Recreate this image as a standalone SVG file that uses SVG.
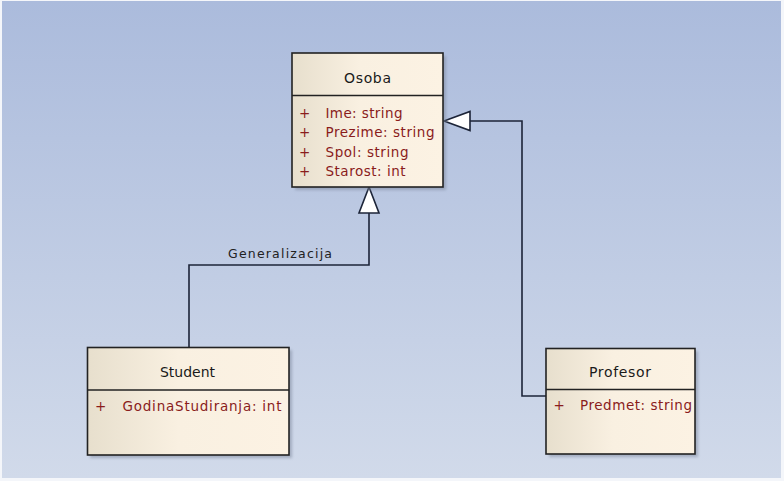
<svg xmlns="http://www.w3.org/2000/svg" width="784" height="481" viewBox="0 0 784 481">
<defs>
<linearGradient id="bg" x1="0" y1="0" x2="0" y2="1">
<stop offset="0" stop-color="#abbbdc"/>
<stop offset="1" stop-color="#d1daea"/>
</linearGradient>
<linearGradient id="box" x1="0" y1="0" x2="1" y2="0">
<stop offset="0" stop-color="#e7dfcd"/>
<stop offset="0.45" stop-color="#f9f0e1"/>
<stop offset="1" stop-color="#fcf2e3"/>
</linearGradient>
<filter id="sh" x="-10%" y="-10%" width="130%" height="130%">
<feGaussianBlur stdDeviation="1.5"/>
</filter>
</defs>
<style>
.frame{fill:url(#box);stroke:#222;stroke-width:1.6}
.shadow{fill:#7d879c;opacity:0.55;filter:url(#sh)}
.sep{stroke:#222;stroke-width:1.4}
.title{font-family:"DejaVu Sans","Liberation Sans",sans-serif;font-size:14px;fill:#1a1a1a;text-anchor:middle}
.attr{font-family:"DejaVu Sans","Liberation Sans",sans-serif;font-size:13.5px;fill:#8a1c1c}
.lbl{font-family:"DejaVu Sans","Liberation Sans",sans-serif;font-size:12.5px;fill:#222}
.conn{fill:none;stroke:#1c2438;stroke-width:1.6}
.tri{fill:#ffffff;stroke:#1c2438;stroke-width:1.6;stroke-linejoin:miter}
</style>
<rect x="0" y="0" width="784" height="481" fill="#f4f6fa"/>
<rect x="2" y="1" width="779" height="477" fill="url(#bg)"/>

<g id="connectors">
<polyline class="conn" points="189,347 189,265 369,265 369,213"/>
<polygon class="tri" points="369,187 359,213 379,213"/>
<polyline class="conn" points="546,396 522,396 522,121 470,121"/>
<polygon class="tri" points="444,121 470,111.5 470,130.5"/>
<text class="lbl" x="228" y="258" textLength="104" lengthAdjust="spacing">Generalizacija</text>
</g>

<g id="osoba">
<rect class="shadow" x="295" y="56" width="151" height="134"/>
<rect class="frame" x="292" y="53" width="151" height="134"/>
<line class="sep" x1="292" y1="95.5" x2="443" y2="95.5"/>
<text class="title" x="367.5" y="83" textLength="47" lengthAdjust="spacing">Osoba</text>
<text class="attr" x="299" y="117.5">+</text>
<text class="attr" x="325.5" y="117.5" textLength="77" lengthAdjust="spacing">Ime: string</text>
<text class="attr" x="299" y="137">+</text>
<text class="attr" x="325.5" y="137" textLength="109" lengthAdjust="spacing">Prezime: string</text>
<text class="attr" x="299" y="156.5">+</text>
<text class="attr" x="325.5" y="156.5" textLength="83" lengthAdjust="spacing">Spol: string</text>
<text class="attr" x="299" y="176">+</text>
<text class="attr" x="325.5" y="176" textLength="80" lengthAdjust="spacing">Starost: int</text>
</g>

<g id="student">
<rect class="shadow" x="90" y="350" width="202" height="108"/>
<rect class="frame" x="87.5" y="347.5" width="201.5" height="107.5"/>
<line class="sep" x1="87.5" y1="390" x2="289" y2="390"/>
<text class="title" x="187.5" y="377" textLength="55" lengthAdjust="spacing">Student</text>
<text class="attr" x="95" y="410.5">+</text>
<text class="attr" x="122.5" y="410.5" textLength="159" lengthAdjust="spacing">GodinaStudiranja: int</text>
</g>

<g id="profesor">
<rect class="shadow" x="549" y="351" width="149" height="106"/>
<rect class="frame" x="546" y="348.5" width="149" height="105.5"/>
<line class="sep" x1="546" y1="389.5" x2="695" y2="389.5"/>
<text class="title" x="620" y="376.5" textLength="62" lengthAdjust="spacing">Profesor</text>
<text class="attr" x="553.5" y="410">+</text>
<text class="attr" x="580" y="410" textLength="112" lengthAdjust="spacing">Predmet: string</text>
</g>
</svg>
